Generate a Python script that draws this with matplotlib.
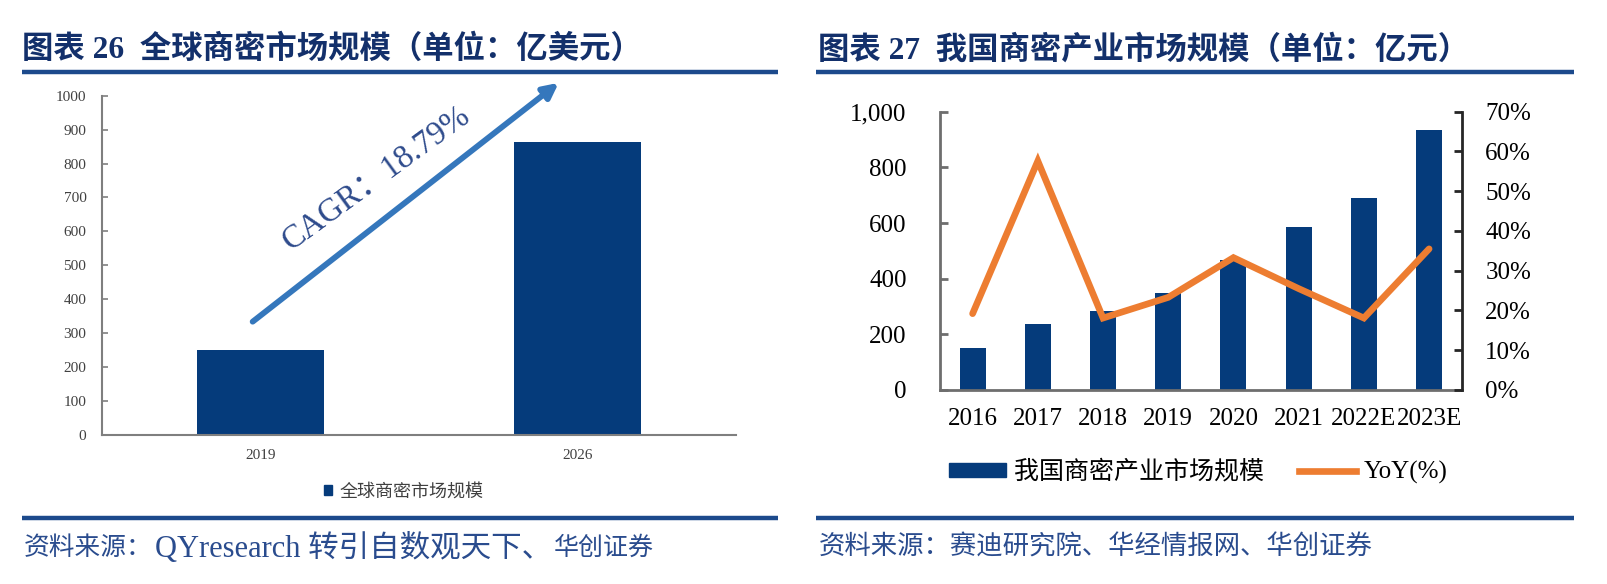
import matplotlib
matplotlib.use('Agg')
import matplotlib.pyplot as plt
from matplotlib.lines import Line2D
from matplotlib.patches import Patch
from matplotlib.ticker import FuncFormatter

# ---------------- data ----------------
global_years = ['2019', '2026']
global_values = [250, 865]
cagr_label = 'CAGR：18.79%'

cn_years = ['2016', '2017', '2018', '2019', '2020', '2021', '2022E', '2023E']
cn_values = [150, 238, 283, 349, 468, 584, 690, 936]
cn_yoy = [19.2, 57.6, 18.1, 23.3, 33.3, 25.5, 18.1, 35.5]

left_title = '图表 26  全球商密市场规模（单位：亿美元）'
right_title = '图表 27  我国商密产业市场规模（单位：亿元）'
left_legend = '全球商密市场规模'
right_legend_bar = '我国商密产业市场规模'
right_legend_line = 'YoY(%)'
left_source_parts = ['资料来源：', 'QYresearch 转引自数观天下、', '华创证券']
right_source = '资料来源：赛迪研究院、华经情报网、华创证券'

# ---------------- style ----------------
W, H = 1608, 584
SERIF = ['Liberation Serif', 'Noto Sans CJK SC', 'DejaVu Sans']
plt.rcParams['font.family'] = SERIF
plt.rcParams['axes.unicode_minus'] = False

NAVY = '#053B7B'
ORANGE = '#ED7D31'
ARROW = '#3577BC'
RULE = '#1C4A8C'
TITLE_C = '#13306B'
SRC_C = '#2A4C8E'

fig = plt.figure(figsize=(W / 100, H / 100), dpi=100)


def fx(px):
    return px / W


def fy(py):
    return 1 - py / H


def rule(x0, x1, y):
    fig.add_artist(Line2D([fx(x0), fx(x1)], [fy(y), fy(y)], transform=fig.transFigure,
                          color=RULE, lw=3.2, solid_capstyle='butt'))


# titles and rules
fig.text(fx(22), fy(50), left_title, fontsize=22.6, fontweight='bold', color=TITLE_C,
         ha='left', va='center')
fig.text(fx(818), fy(50), right_title, fontsize=22.6, fontweight='bold', color=TITLE_C,
         ha='left', va='center')
rule(22, 778, 72)
rule(816, 1574, 72)
rule(22, 778, 518)
rule(816, 1574, 518)

# left source, in three runs (italic / upright / italic)
renderer = fig.canvas.get_renderer()
src_x = fx(24)
src_styles = [('italic', 18.5), ('normal', 22), ('italic', 18)]
for part, (st, fs) in zip(left_source_parts, src_styles):
    t = fig.text(src_x, fy(548), part, fontsize=fs, style=st, color=SRC_C,
                 ha='left', va='center')
    bb = t.get_window_extent(renderer=renderer)
    src_x = bb.x1 / W + fx(2)
fig.text(fx(819), fy(547), right_source, fontsize=19, style='italic', color=SRC_C,
         ha='left', va='center')

# ---------------- left chart ----------------
ax1 = fig.add_axes([fx(101.7), fy(435), fx(736) - fx(101.7), fy(95.7) - fy(435)])
x1 = list(range(len(global_years)))
ax1.bar(x1, global_values, width=0.4, color=NAVY, label=left_legend, zorder=2)
ax1.set_xlim(-0.5, len(global_years) - 0.5)
ax1.set_ylim(0, 1000)
ax1.set_yticks(range(0, 1001, 100))
ax1.set_xticks(x1)
ax1.set_xticklabels(global_years)
for s in ['top', 'right']:
    ax1.spines[s].set_visible(False)
for s in ['left', 'bottom']:
    ax1.spines[s].set_color('#7F7F7F')
    ax1.spines[s].set_linewidth(1.5)
ax1.tick_params(axis='y', direction='in', length=4, width=1.2, color='#7F7F7F',
                labelsize=11, labelcolor='#404040', pad=11)
ax1.tick_params(axis='x', length=0, labelsize=11, labelcolor='#404040', pad=10)
ax1.annotate('', xy=(0.941, 1038), xytext=(-0.024, 334), xycoords='data',
             arrowprops=dict(arrowstyle='-|>', lw=4.2, color=ARROW, mutation_scale=22,
                             shrinkA=0, shrinkB=0),
             annotation_clip=False)
ax1.text(0.365, 757, cagr_label, fontsize=23.5, color='#2E4B8C', rotation=36,
         ha='center', va='center', rotation_mode='anchor')
leg1 = ax1.legend(handles=[Patch(color=NAVY, label=left_legend)], loc='center',
                  bbox_to_anchor=(fx(404), fy(492)), bbox_transform=fig.transFigure,
                  frameon=False, fontsize=13, handlelength=0.45, handleheight=0.5,
                  handletextpad=0.4, borderpad=0)
for t in leg1.get_texts():
    t.set_color('#404040')

# ---------------- right chart ----------------
ax2 = fig.add_axes([fx(940), fy(390), fx(1461.7) - fx(940), fy(111.7) - fy(390)])
x2 = list(range(len(cn_years)))
ax2.bar(x2, cn_values, width=0.4, color=NAVY, zorder=2)
ax2.set_xlim(-0.5, len(cn_years) - 0.5)
ax2.set_ylim(0, 1000)
ax2.set_yticks(range(0, 1001, 200))
ax2.yaxis.set_major_formatter(FuncFormatter(lambda v, p: f'{int(v):,}'))
ax2.set_xticks(x2)
ax2.set_xticklabels(cn_years)
ax2.spines['top'].set_visible(False)
ax2.spines['right'].set_visible(False)
for s in ['left', 'bottom']:
    ax2.spines[s].set_color('#6E6E6E')
    ax2.spines[s].set_linewidth(2)
ax2.tick_params(axis='y', direction='in', length=6, width=2, color='#6E6E6E',
                labelsize=18, labelcolor='black', pad=24)
ax2.tick_params(axis='x', length=0, labelsize=18, labelcolor='black', pad=13)

ax3 = ax2.twinx()
ax3.plot(x2, [v / 100 for v in cn_yoy], color=ORANGE, lw=4.8, solid_capstyle='round',
         solid_joinstyle='miter', zorder=3)
ax3.set_ylim(0, 0.7)
ax3.set_yticks([i / 10 for i in range(8)])
ax3.yaxis.set_major_formatter(FuncFormatter(lambda v, p: f'{v * 100:.0f}%'))
for s in ['top', 'left', 'bottom']:
    ax3.spines[s].set_visible(False)
ax3.spines['right'].set_color('#262626')
ax3.spines['right'].set_linewidth(2)
ax3.tick_params(axis='y', direction='in', length=6, width=2, color='#262626',
                labelsize=18, labelcolor='black', pad=17)

handles = [Patch(color=NAVY, label=right_legend_bar),
           Line2D([0], [0], color=ORANGE, lw=4.8, label=right_legend_line)]
fig.legend(handles=handles, loc='center', bbox_to_anchor=(fx(1198), fy(472)),
           bbox_transform=fig.transFigure, ncol=2, frameon=False, fontsize=18,
           handlelength=2.3, handleheight=0.5, handletextpad=0.3, columnspacing=1.4,
           borderpad=0)

fig.savefig('out.png', dpi=100)
